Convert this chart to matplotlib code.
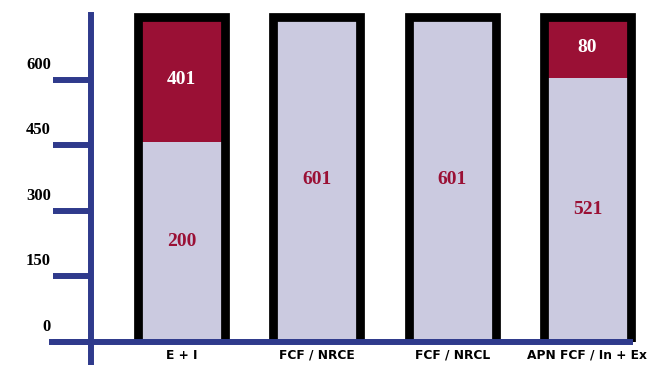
import matplotlib.pyplot as plt
from matplotlib.transforms import ScaledTranslation

# data (bar segments in axis units as drawn, plus the printed counts)
categories = ['E + I', 'FCF / NRCE', 'FCF / NRCL', 'APN FCF / In + Ex']
lower = [458, 745, 745, 605]
upper = [287, 0, 0, 140]
lower_labels = ['200', '601', '601', '521']
upper_labels = ['401', '', '', '80']
yticks = [0, 150, 300, 450, 600]

navy = '#2f3a8c'
maroon = '#9a1035'
lavender = '#cbcae0'

fig = plt.figure(figsize=(6.49, 3.65), dpi=100)
ax = fig.add_axes([0, 23 / 365, 1, 330 / 365])
ax.set_xlim(-1.3415, 3.455)
ax.set_ylim(0, 755.7)

x = list(range(len(categories)))
w = 0.643
totals = [a + b for a, b in zip(lower, upper)]

ax.bar(x, lower, width=w, color=lavender, zorder=1)
ax.bar(x, upper, width=w, bottom=lower, color=maroon, zorder=1)
# outline: start below the axis so the bottom edge is clipped away
ax.bar(x, [t + 30 for t in totals], width=w, bottom=-30, fill=False,
       edgecolor='black', linewidth=6.3, zorder=2)

for i in x:
    ax.text(i, lower[i] / 2, lower_labels[i], ha='center', va='center',
            color=maroon, fontsize=14, fontweight='bold', family='Liberation Serif', zorder=5)
    if upper_labels[i]:
        ax.text(i, lower[i] + upper[i] / 2, upper_labels[i], ha='center', va='center',
                color='white', fontsize=14, fontweight='bold', family='Liberation Serif', zorder=5)

# axes styling
for s in ['top', 'right']:
    ax.spines[s].set_visible(False)
ax.spines['left'].set_position(('data', -0.6726))
ax.spines['left'].set_bounds(-52, 749)
ax.spines['bottom'].set_position(('data', 0))
ax.spines['bottom'].set_bounds(-0.957, 3.315)
for s in ['left', 'bottom']:
    ax.spines[s].set_color(navy)
    ax.spines[s].set_linewidth(4.3)
    ax.spines[s].set_zorder(4)
    ax.spines[s].set_clip_on(False)

ax.set_yticks(yticks)
ax.set_yticklabels([str(v) for v in yticks], fontsize=12, fontweight='bold',
                   family='Liberation Serif')
ax.tick_params(axis='y', length=27.5, width=4.3, color=navy, pad=1)
shift = ScaledTranslation(0, 17 / 100, fig.dpi_scale_trans)
for lab in ax.get_yticklabels():
    lab.set_transform(lab.get_transform() + shift)

ax.set_xticks(x)
ax.set_xticklabels(categories, fontsize=8.8, fontweight='bold')
ax.tick_params(axis='x', length=0, pad=5)

fig.savefig('out.png', dpi=100)
